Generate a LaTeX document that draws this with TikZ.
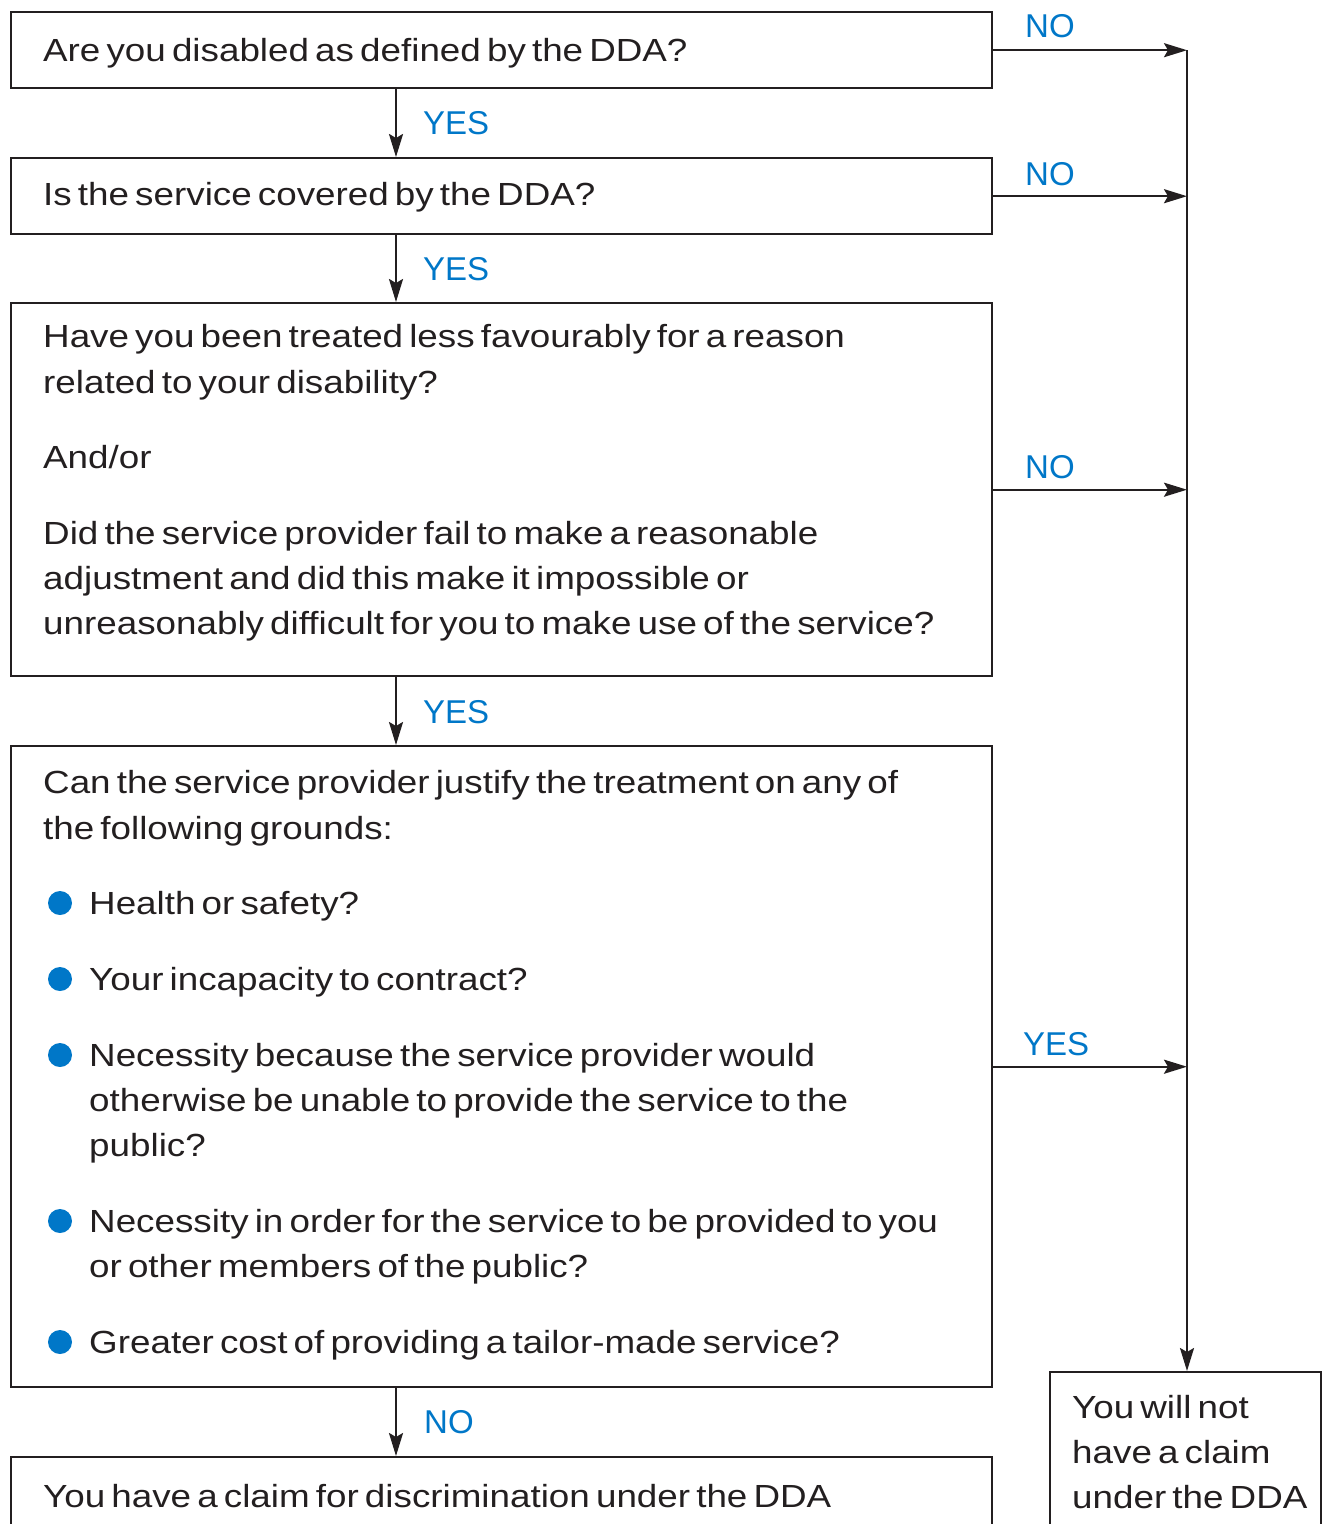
\documentclass[tikz,border=0pt]{standalone}
\usepackage{fontspec}
\setmainfont{Liberation Sans}[FakeStretch=1.15, WordSpace=0.6]
\newfontfamily\lblfont{Liberation Sans}
\usetikzlibrary{arrows.meta}
\definecolor{ink}{HTML}{231F20}
\definecolor{dblue}{HTML}{0077C8}
\tikzset{
  box/.style={draw=ink, line width=2.4pt, rectangle, inner sep=0pt, anchor=north west},
  txt/.style={anchor=base west, inner sep=0pt, text=ink, font=\fontsize{32}{45}\selectfont},
  lbl/.style={anchor=base west, inner sep=0pt, text=dblue, font=\lblfont\fontsize{33}{40}\selectfont},
  conn/.style={draw=ink, line width=2.4pt, -{Stealth[length=23pt,width=14pt,inset=4pt]}},
  bul/.style={circle, fill=dblue, minimum size=24pt, inner sep=0pt}
}
\begin{document}
\begin{tikzpicture}[x=1pt,y=-1pt]
\useasboundingbox (0,0) rectangle (1325,1524);
\clip (0,0) rectangle (1325,1524);
% boxes
\node[box, minimum width=981pt, minimum height=76pt] (b1) at (10,11) {};
\node[box, minimum width=981pt, minimum height=76pt] (b2) at (10,157) {};
\node[box, minimum width=981pt, minimum height=373pt] (b3) at (10,302) {};
\node[box, minimum width=981pt, minimum height=641pt] (b4) at (10,745) {};
\node[box, minimum width=981pt, minimum height=120pt] (b5) at (10,1456) {};
\node[box, minimum width=271pt, minimum height=200pt] (b6) at (1049,1371) {};
% texts
\node[txt] (t1) at (43,61) {Are you disabled as defined by the DDA?};
\node[txt] (t2) at (43,205) {Is the service covered by the DDA?};
\node[txt] (t3a) at (43,347) {Have you been treated less favourably for a reason};
\node[txt] (t3b) at (43,393) {related to your disability?};
\node[txt] (t3c) at (43,468) {And/or};
\node[txt] (t3d) at (43,544) {Did the service provider fail to make a reasonable};
\node[txt] (t3e) at (43,589) {adjustment and did this make it impossible or};
\node[txt] (t3f) at (43,634) {unreasonably difficult for you to make use of the service?};
\node[txt] (t4a) at (43,793) {Can the service provider justify the treatment on any of};
\node[txt] (t4b) at (43,839) {the following grounds:};
\node[txt] (t4c) at (89,914) {Health or safety?};
\node[txt] (t4d) at (89,990) {Your incapacity to contract?};
\node[txt] (t4e) at (89,1066) {Necessity because the service provider would};
\node[txt] (t4f) at (89,1111) {otherwise be unable to provide the service to the};
\node[txt] (t4g) at (89,1156) {public?};
\node[txt] (t4h) at (89,1232) {Necessity in order for the service to be provided to you};
\node[txt] (t4i) at (89,1277) {or other members of the public?};
\node[txt] (t4j) at (89,1353) {Greater cost of providing a tailor-made service?};
\node[txt] (t5) at (43,1507) {You have a claim for discrimination under the DDA};
\node[txt] (t6a) at (1072,1418) {You will not};
\node[txt] (t6b) at (1072,1463) {have a claim};
\node[txt] (t6c) at (1072,1508) {under the DDA};
% bullets
\node[bul] (c1) at (60,903) {};
\node[bul] (c2) at (60,979) {};
\node[bul] (c3) at (60,1055) {};
\node[bul] (c4) at (60,1221) {};
\node[bul] (c5) at (60,1342) {};
% labels
\node[lbl] (y1) at (423,134) {YES};
\node[lbl] (y2) at (423,280) {YES};
\node[lbl] (y3) at (423,723) {YES};
\node[lbl] (n4) at (424,1433) {NO};
\node[lbl] (n1) at (1025,37) {NO};
\node[lbl] (n2) at (1025,185) {NO};
\node[lbl] (n3) at (1025,478) {NO};
\node[lbl] (y4) at (1023,1055) {YES};
% coordinates
\coordinate (xa) at (396,0);
\coordinate (xr) at (1187,0);
\coordinate (j1) at (xr |- b1.east);
\coordinate (j6) at (xr |- b6.north);
% down arrows
\draw[conn] (b1.south -| xa) -- (b2.north -| xa);
\draw[conn] (b2.south -| xa) -- (b3.north -| xa);
\draw[conn] (b3.south -| xa) -- (b4.north -| xa);
\draw[conn] (b4.south -| xa) -- (b5.north -| xa);
% right arrows
\draw[conn] (b1.east) -- (xr |- b1.east);
\draw[conn] (b2.east) -- (xr |- b2.east);
\draw[conn] (b3.east) -- (xr |- b3.east);
\draw[conn] (b4.east) -- (xr |- b4.east);
\draw[conn] (j1) -- (j6);
\end{tikzpicture}
\end{document}
